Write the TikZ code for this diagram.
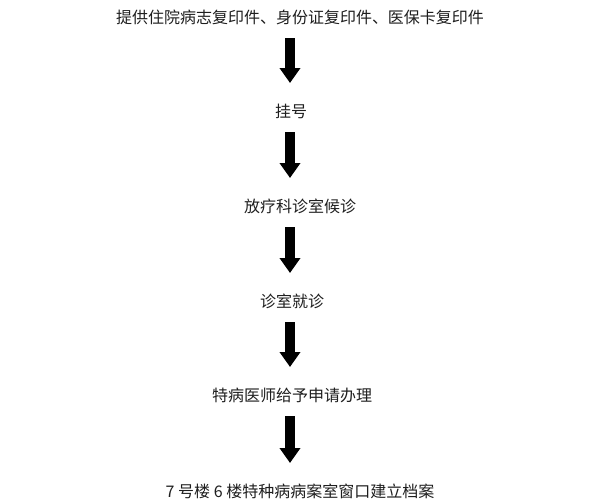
\documentclass[tikz,border=0pt]{standalone}
\usepackage{fontspec}
\newfontfamily\cjk{Noto Sans CJK SC}
\usepackage{tikz}
\usetikzlibrary{arrows.meta}
\definecolor{steptextcol}{RGB}{30,30,30}

\begin{document}
\begin{tikzpicture}[x=1pt,y=-1pt,
    steptext/.style={font=\cjk\fontsize{16pt}{18pt}\selectfont,text=steptextcol,inner sep=0pt},
    downarrow/.style={line width=10pt,-{Triangle[width=20pt,length=15pt]},black}]
    \useasboundingbox (0,0) rectangle (600,501);
    % the steps
    \node[steptext] (t1) at (300,17) {提供住院病志复印件、身份证复印件、医保卡复印件};
    \node[steptext] (t2) at (291,111) {挂号};
    \node[steptext] (t3) at (300,206) {放疗科诊室候诊};
    \node[steptext] (t4) at (292,301) {诊室就诊};
    \node[steptext] (t5) at (292,395) {特病医师给予申请办理};
    \node[steptext] (t6) at (300,491) {7 号楼 6 楼特种病病案室窗口建立档案};
    % the arrows
    \coordinate (ax) at (290,0);
    \foreach \i/\j in {1/2, 2/3, 3/4, 4/5, 5/6}{
      \draw[downarrow] ([yshift=-21pt]t\i.center -| ax) -- ([yshift=28pt]t\j.center -| ax);}
\end{tikzpicture}
\end{document}
